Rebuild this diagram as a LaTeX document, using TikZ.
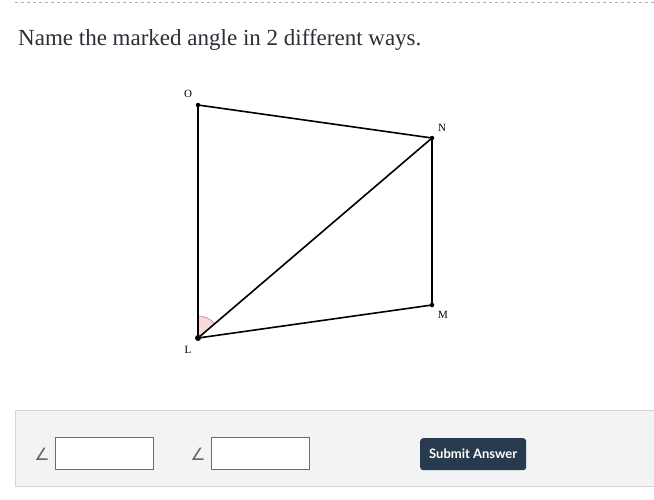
\documentclass[tikz,border=0pt]{standalone}
\usepackage{fontspec}
\setmainfont{Liberation Serif}
\newfontfamily\btnfont{Lato}
\newfontfamily\symfont{DejaVu Sans}
\usetikzlibrary{calc}
\definecolor{panelfill}{HTML}{F2F3F5}
\definecolor{panelline}{HTML}{D3D5D8}
\definecolor{btnfill}{HTML}{273A4E}
\definecolor{titletext}{HTML}{2A2F36}
\definecolor{markfill}{HTML}{F8D9DA}
\definecolor{markline}{HTML}{B08A8C}
\tikzset{
  pt/.style={circle,fill=black,inner sep=0pt,minimum size=4.5pt},
  seg/.style={line width=1.6pt,black},
  lbl/.style={font=\fontsize{11}{12}\selectfont},
  ansbox/.style={draw=gray!85!black,line width=1.2pt,fill=white,minimum width=98pt,minimum height=32pt,inner sep=0pt},
  angsym/.style={font=\symfont\fontsize{17}{18}\selectfont,text=gray!80!black,inner sep=0pt},
}
\begin{document}
\begin{tikzpicture}[x=1pt,y=-1pt]
\useasboundingbox (0,0) rectangle (654,499);
\fill[white] (0,0) rectangle (654,499);
% top dashed rule
\draw[gray!60,dashed,line width=0.6pt] (15,2) -- (654,2);
% title
\node[anchor=base west,inner sep=0pt,text=titletext,font=\fontsize{23}{26}\selectfont] (title) at (18,45) {Name the marked angle in 2 different ways.};
% points
\coordinate (O) at (198,105);
\coordinate (N) at (432,138);
\coordinate (M) at (432,305);
\coordinate (L) at (198,338);
% angle marker
\fill[markfill] (L) -- ($(L)+(0pt,22pt)$) arc[start angle=90,end angle=40.5,radius=22pt] -- cycle;
\draw[markline,line width=0.6pt] ($(L)+(0pt,22pt)$) arc[start angle=90,end angle=40.5,radius=22pt];
% segments
\draw[seg] (O) -- (N) -- (M) -- (L) -- cycle;
\draw[seg] (L) -- (N);
\node[pt] (pO) at (O) {};
\node[pt] (pN) at (N) {};
\node[pt] (pM) at (M) {};
\node[pt,minimum size=6pt] (pL) at (L) {};
\node[lbl] (lO) at (188,94) {O};
\node[lbl] (lN) at (442,128) {N};
\node[lbl] (lM) at (443,315) {M};
\node[lbl] (lL) at (188,350) {L};
% answer panel
\draw[panelline,fill=panelfill,line width=0.8pt] (15,410) rectangle (660,486);
\node[ansbox,anchor=north west] (box1) at (55,437) {};
\node[ansbox,anchor=north west] (box2) at (211,437) {};
\node[angsym] (ang1) at (42,454) {∠};
\node[angsym] (ang2) at (198,454) {∠};
\node[fill=btnfill,rounded corners=3pt,minimum width=106pt,minimum height=32pt,inner sep=0pt,text=white,font=\btnfont\bfseries\fontsize{13}{14}\selectfont,anchor=north west] (submit) at (420,438) {Submit Answer};
\end{tikzpicture}
\end{document}
